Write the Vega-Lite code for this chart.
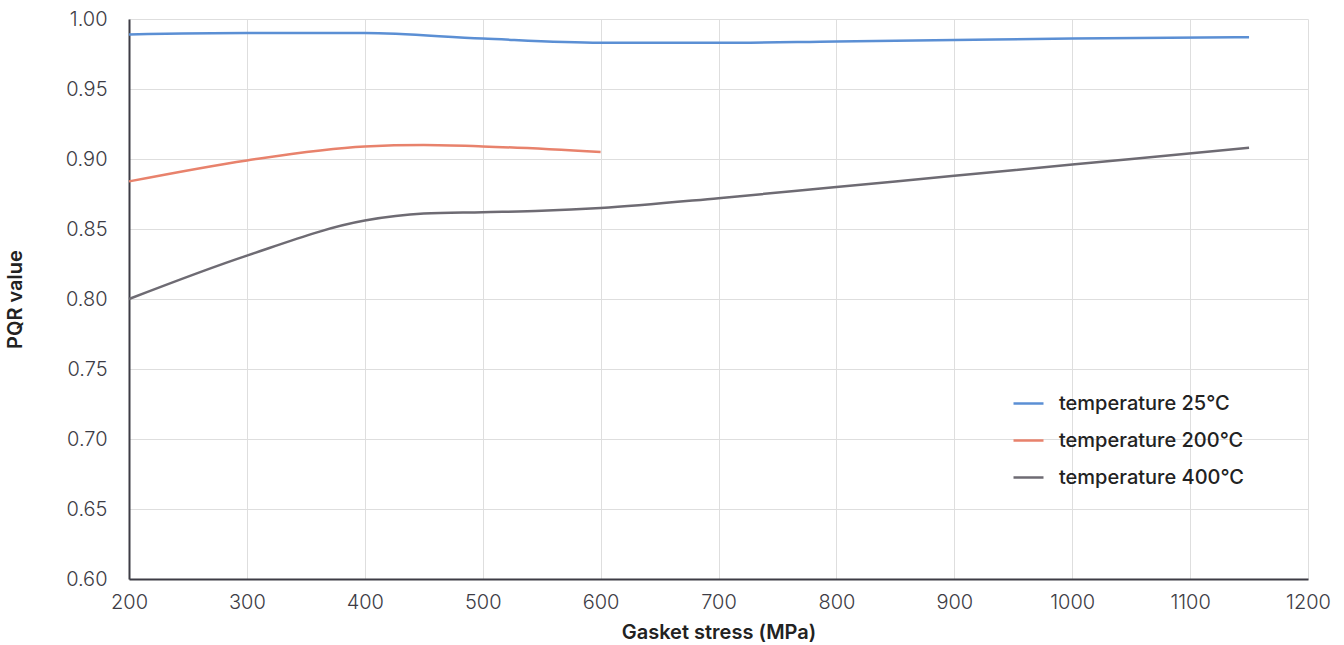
{
  "$schema": "https://vega.github.io/schema/vega-lite/v6.json",
  "width": 1179,
  "height": 560,
  "autosize": {"type": "none"},
  "padding": {"left": 129, "top": 19, "right": 36, "bottom": 66},
  "background": "#ffffff",
  "config": {
    "font": "Inter",
    "view": {"stroke": null},
    "axis": {
      "domainColor": "#3d3c45",
      "domainWidth": 2,
      "gridColor": "#dedede",
      "gridWidth": 1,
      "ticks": false,
      "labelColor": "#3d3c45",
      "labelFontSize": 20,
      "labelFontWeight": 300,
      "labelFont": "Inter",
      "titleFont": "Inter",
      "titleFontSize": 20,
      "titleFontWeight": 600,
      "titleColor": "#222222"
    }
  },
  "data": {
    "values": [
      {"stress": 200, "P": 0.989, "series": "temperature 25°C"},
      {"stress": 300, "P": 0.990, "series": "temperature 25°C"},
      {"stress": 400, "P": 0.990, "series": "temperature 25°C"},
      {"stress": 500, "P": 0.986, "series": "temperature 25°C"},
      {"stress": 600, "P": 0.983, "series": "temperature 25°C"},
      {"stress": 700, "P": 0.983, "series": "temperature 25°C"},
      {"stress": 800, "P": 0.984, "series": "temperature 25°C"},
      {"stress": 900, "P": 0.985, "series": "temperature 25°C"},
      {"stress": 1000, "P": 0.986, "series": "temperature 25°C"},
      {"stress": 1150, "P": 0.987, "series": "temperature 25°C"},
      {"stress": 200, "P": 0.884, "series": "temperature 200°C"},
      {"stress": 300, "P": 0.899, "series": "temperature 200°C"},
      {"stress": 400, "P": 0.909, "series": "temperature 200°C"},
      {"stress": 450, "P": 0.910, "series": "temperature 200°C"},
      {"stress": 500, "P": 0.909, "series": "temperature 200°C"},
      {"stress": 600, "P": 0.905, "series": "temperature 200°C"},
      {"stress": 200, "P": 0.800, "series": "temperature 400°C"},
      {"stress": 300, "P": 0.831, "series": "temperature 400°C"},
      {"stress": 400, "P": 0.856, "series": "temperature 400°C"},
      {"stress": 450, "P": 0.861, "series": "temperature 400°C"},
      {"stress": 500, "P": 0.862, "series": "temperature 400°C"},
      {"stress": 550, "P": 0.863, "series": "temperature 400°C"},
      {"stress": 600, "P": 0.865, "series": "temperature 400°C"},
      {"stress": 700, "P": 0.872, "series": "temperature 400°C"},
      {"stress": 800, "P": 0.880, "series": "temperature 400°C"},
      {"stress": 900, "P": 0.888, "series": "temperature 400°C"},
      {"stress": 1000, "P": 0.896, "series": "temperature 400°C"},
      {"stress": 1150, "P": 0.908, "series": "temperature 400°C"}
    ]
  },
  "mark": {"type": "line", "interpolate": "monotone", "strokeWidth": 2.5},
  "encoding": {
    "x": {
      "field": "stress",
      "type": "quantitative",
      "scale": {"domain": [200, 1200], "nice": false, "zero": false},
      "axis": {"values": [200, 300, 400, 500, 600, 700, 800, 900, 1000, 1100, 1200], "format": "d", "title": "Gasket stress (MPa)", "labelPadding": 13, "titlePadding": 10, "labelFlush": false}
    },
    "y": {
      "field": "P",
      "type": "quantitative",
      "scale": {"domain": [0.6, 1.0], "nice": false, "zero": false},
      "axis": {"values": [0.6, 0.65, 0.7, 0.75, 0.8, 0.85, 0.9, 0.95, 1.0], "format": ".2f", "title": "PQR value", "labelPadding": 22, "titlePadding": 40}
    },
    "color": {
      "field": "series",
      "type": "nominal",
      "scale": {"domain": ["temperature 25°C", "temperature 200°C", "temperature 400°C"], "range": ["#5b8fd4", "#e8826c", "#6e6b73"]},
      "legend": {
        "title": null,
        "orient": "none",
        "legendX": 883,
        "legendY": 368,
        "symbolType": "stroke",
        "symbolStrokeWidth": 2.5,
        "symbolSize": 900,
        "labelFontSize": 20,
        "labelFontWeight": 500,
        "labelFont": "Inter",
        "labelColor": "#222222",
        "labelOffset": 14,
        "labelLimit": 400,
        "rowPadding": 10
      }
    }
  }
}
